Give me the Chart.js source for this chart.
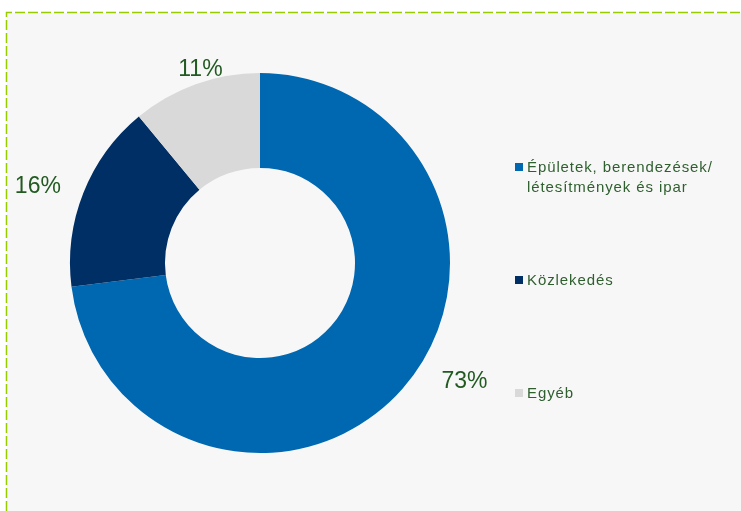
<!DOCTYPE html>
<html>
<head>
<meta charset="utf-8">
<script src="https://cdn.jsdelivr.net/npm/chart.js@4/dist/chart.umd.min.js"></script>
<style>
  body { margin: 0; background: #fff; font-family: "Liberation Sans", Arial, sans-serif; }
  #wrap { position: relative; width: 741px; height: 511px; overflow: hidden; }
  #chart { position: absolute; left: 0; top: 0; }
  #legend { position: absolute; left: 515px; top: 0; width: 226px; }
  .item { position: absolute; left: 0; width: 226px; font-size: 15px; line-height: 20px; color: #2f5f2f; letter-spacing: 0.9px; }
  .box { position: absolute; left: 0; top: 6px; width: 8px; height: 8px; }
  .txt { margin-left: 12px; }
</style>
</head>
<body>
<div id="wrap">
  <canvas id="chart" width="741" height="511"></canvas>
  <div id="legend"></div>
</div>
<script>
const categories = ['Épületek, berendezések/ létesítmények és ipar', 'Közlekedés', 'Egyéb'];
const shares = [73, 16, 11];
const colors = ['#0068b1', '#002f66', '#d9d9d9'];
const legendTops = [157, 270, 383];

// legend on the right
const legend = document.getElementById('legend');
categories.forEach((name, i) => {
    const item = document.createElement('div');
    item.className = 'item';
    item.style.top = legendTops[i] + 'px';
    item.innerHTML = `<span class="box" style="background:${colors[i]}"></span><div class="txt">${name.replace('/ ', '/<br>')}</div>`;
    legend.appendChild(item);
});

// grey panel with dashed green frame
const panel = {
    id: 'panel',
    beforeDraw(chart) {
        const ctx = chart.ctx;
        ctx.save();
        ctx.fillStyle = '#f7f7f7';
        ctx.fillRect(7, 13, chart.width, chart.height);
        ctx.strokeStyle = '#99cc00';
        ctx.lineWidth = 1.5;
        ctx.setLineDash([10, 3]);
        ctx.beginPath();
        ctx.moveTo(6.5, chart.height);
        ctx.lineTo(6.5, 12.5);
        ctx.lineTo(chart.width, 12.5);
        ctx.stroke();
        ctx.restore();
    }
};

// percentage labels outside each slice (small nudges like the hand-placed originals)
const labelNudge = [[35, -31], [-12, 7], [17, 19]];
const outsideLabels = {
    id: 'outsideLabels',
    afterDatasetsDraw(chart) {
        const ctx = chart.ctx;
        ctx.save();
        ctx.font = '23px "Liberation Sans", Arial, sans-serif';
        ctx.fillStyle = '#225a22';
        ctx.textAlign = 'center';
        ctx.textBaseline = 'middle';
        chart.getDatasetMeta(0).data.forEach((arc, i) => {
            const p = arc.getProps(['x', 'y', 'startAngle', 'endAngle', 'outerRadius'], true);
            const mid = (p.startAngle + p.endAngle) / 2;
            const r = p.outerRadius + 36;
            ctx.fillText(shares[i] + '%',
                p.x + Math.cos(mid) * r + labelNudge[i][0],
                p.y + Math.sin(mid) * r + labelNudge[i][1]);
        });
        ctx.restore();
    }
};

new Chart(document.getElementById('chart'), {
    type: 'doughnut',
    data: {
        labels: categories,
        datasets: [{
            data: shares,
            backgroundColor: colors,
            borderWidth: 0
        }]
    },
    options: {
        responsive: false,
        animation: false,
        cutout: '50%',
        layout: { padding: { left: 70, top: 73, right: 291, bottom: 58 } },
        plugins: {
            legend: { display: false },
            tooltip: { enabled: false }
        }
    },
    plugins: [panel, outsideLabels]
});
</script>
</body>
</html>
